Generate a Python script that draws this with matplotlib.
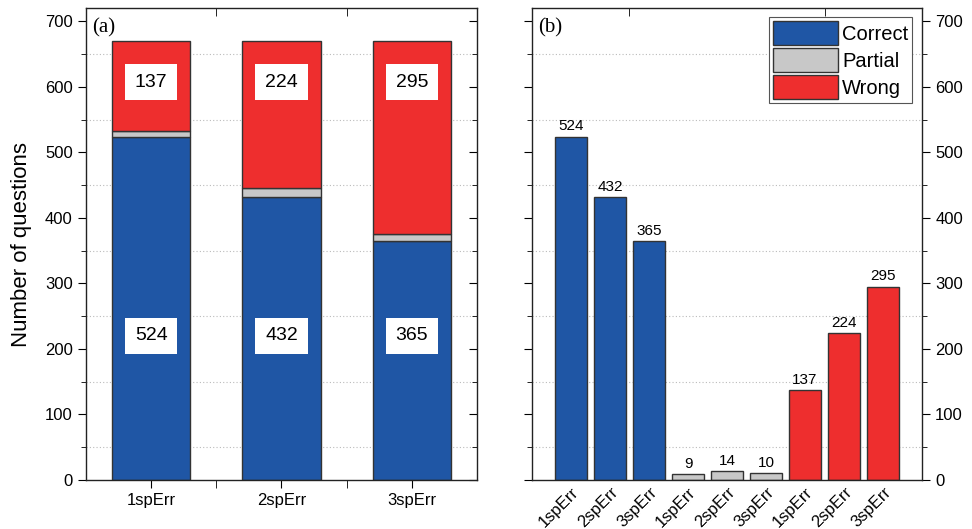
import matplotlib as mpl
mpl.use('Agg')
import matplotlib.pyplot as plt
from matplotlib.patches import Patch
import numpy as np

plt.rcParams['font.family'] = ['Liberation Sans', 'DejaVu Sans']

# data
groups = ['1spErr', '2spErr', '3spErr']
correct = [524, 432, 365]
partial = [9, 14, 10]
wrong = [137, 224, 295]

cBlue = '#1f56a5'
cGray = '#c8c8c8'
cRed = '#ee2e2e'
cEdge = '#333333'

fig = plt.figure(figsize=(9.72, 5.29), dpi=100)
axA = fig.add_axes([0.0885, 0.0926, 0.4022, 0.892])
axB = fig.add_axes([0.5473, 0.0926, 0.4013, 0.892])

def styleY(ax):
    ax.set_ylim(0, 720)
    ax.set_yticks(np.arange(0, 701, 100))
    ax.set_yticks(np.arange(50, 701, 100), minor=True)
    ax.grid(False, which='major')
    ax.grid(True, which='minor', axis='y', linestyle=(0, (1, 2)), color='#bbbbbb', linewidth=0.8)
    ax.set_axisbelow(True)
    for s in ax.spines.values():
        s.set_color('#222222')
        s.set_linewidth(1.0)

# ---- (a) stacked
x = np.arange(1, 4)
axA.bar(x, correct, 0.6, color=cBlue, edgecolor=cEdge, linewidth=1)
axA.bar(x, partial, 0.6, bottom=correct, color=cGray, edgecolor=cEdge, linewidth=1)
axA.bar(x, wrong, 0.6, bottom=np.array(correct) + np.array(partial), color=cRed, edgecolor=cEdge, linewidth=1)
for i in range(3):
    axA.text(x[i], 220, str(correct[i]), ha='center', va='center', fontsize=14,
             bbox=dict(boxstyle='square,pad=0.5', fc='white', ec='none'))
    axA.text(x[i], 607, str(wrong[i]), ha='center', va='center', fontsize=14,
             bbox=dict(boxstyle='square,pad=0.5', fc='white', ec='none'))
axA.set_xlim(0.5, 3.5)
styleY(axA)
axA.set_xticks(x)
axA.set_xticklabels(groups, fontsize=12)
axA.set_xticks([1.5, 2.5], minor=True)
axA.tick_params(axis='y', which='major', direction='out', length=6, labelsize=12, right=True)
axA.tick_params(axis='y', which='minor', direction='out', length=3.5, right=True)
axA.tick_params(axis='x', which='major', direction='out', length=6, top=True)
axA.tick_params(axis='x', which='minor', direction='out', length=6, top=True)
axA.set_ylabel('Number of questions', fontsize=16, labelpad=9)
axA.text(0.015, 0.978, '(a)', transform=axA.transAxes, ha='left', va='top',
         fontsize=15, family='Liberation Serif')
# inward ticks on the top/right sides
for t in axA.yaxis.get_major_ticks() + axA.yaxis.get_minor_ticks():
    t.tick2line.set_marker(mpl.lines.TICKLEFT)
for t in axA.xaxis.get_major_ticks() + axA.xaxis.get_minor_ticks():
    t.tick2line.set_marker(mpl.lines.TICKDOWN)
axA.tick_params(axis='x', which='major', top=False)

# ---- (b) separate bars
vals = correct + partial + wrong
cols = [cBlue] * 3 + [cGray] * 3 + [cRed] * 3
xb = np.arange(1, 10)
axB.bar(xb, vals, 0.84, color=cols, edgecolor=cEdge, linewidth=1)
for xi, v in zip(xb, vals):
    axB.text(xi, v + 5, str(v), ha='center', va='bottom', fontsize=11)
axB.set_xlim(0, 10)
styleY(axB)
axB.set_xticks(xb)
axB.set_xticklabels(groups * 3, rotation=45, ha='right', va='top', rotation_mode='anchor', fontsize=12)
axB.set_xticks([2.5, 5, 7.5], minor=True)
axB.tick_params(axis='x', which='major', length=0, pad=3)
axB.tick_params(axis='x', which='minor', top=True, bottom=False, direction='in', length=6)
axB.yaxis.tick_right()
axB.tick_params(axis='y', which='major', left=True, right=True, direction='out', length=6, labelsize=12,
                labelleft=False, labelright=True)
axB.tick_params(axis='y', which='minor', left=True, right=True, direction='out', length=3.5)
axB.text(0.015, 0.978, '(b)', transform=axB.transAxes, ha='left', va='top',
         fontsize=15, family='Liberation Serif')

handles = [Patch(fc=cBlue, ec=cEdge), Patch(fc=cGray, ec=cEdge), Patch(fc=cRed, ec=cEdge)]
leg = axB.legend(handles, ['Correct', 'Partial', 'Wrong'], loc='upper right',
                 bbox_to_anchor=(0.985, 0.99), fontsize=14.5, handlelength=3.2, handleheight=1.5,
                 labelspacing=0.12, handletextpad=0.2, borderpad=0.2, borderaxespad=0.2,
                 fancybox=False, framealpha=1)
leg.get_frame().set_edgecolor('#555555')
leg.get_frame().set_linewidth(0.8)

fig.savefig('out.png', dpi=100)
